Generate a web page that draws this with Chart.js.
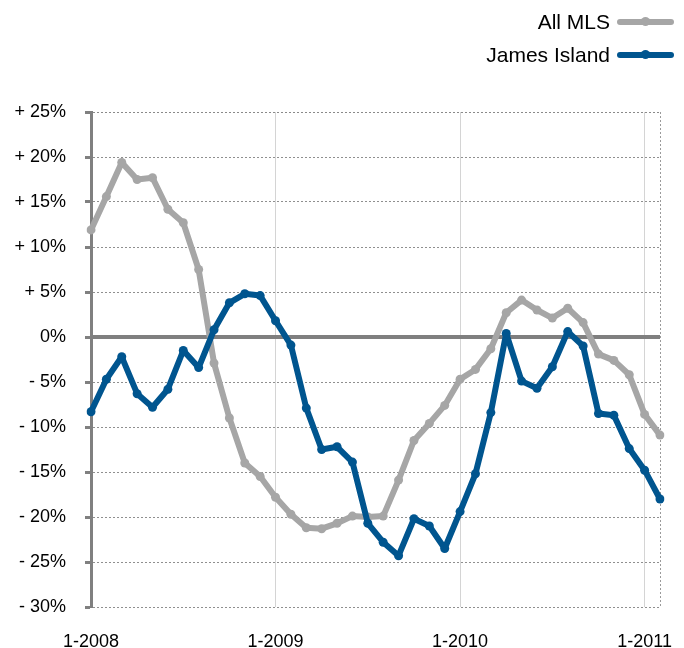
<!DOCTYPE html>
<html>
<head>
<meta charset="utf-8">
<script src="https://cdn.jsdelivr.net/npm/chart.js@4/dist/chart.umd.min.js"></script>
<style>
  html, body { margin: 0; padding: 0; background: #fff; }
  #wrap { position: relative; width: 684px; height: 648px; }
  #chart { position: absolute; left: 0; top: 0; }
  .legend { position: absolute; right: 10px; top: 5px; font-family: "Liberation Sans", Arial, Helvetica, sans-serif; font-size: 21px; color: #000; }
  .legend .row { display: flex; justify-content: flex-end; align-items: center; height: 33px; }
  .legend .swatch { position: relative; width: 57px; height: 6px; border-radius: 3px; margin-left: 7px; }
  .legend .swatch::after { content: ""; position: absolute; left: 24px; top: -1.5px; width: 9px; height: 9px; border-radius: 50%; background: inherit; }
</style>
</head>
<body>
<div id="wrap">
  <canvas id="chart" width="684" height="648"></canvas>
  <div class="legend">
    <div class="row"><span>All MLS</span><span class="swatch" style="background:#a6a6a6"></span></div>
    <div class="row"><span>James Island</span><span class="swatch" style="background:#00558f"></span></div>
  </div>
</div>
<script>
// Month labels (month-year), January 2008 through February 2011
const months = [
  '1-2008','2-2008','3-2008','4-2008','5-2008','6-2008','7-2008','8-2008','9-2008','10-2008','11-2008','12-2008',
  '1-2009','2-2009','3-2009','4-2009','5-2009','6-2009','7-2009','8-2009','9-2009','10-2009','11-2009','12-2009',
  '1-2010','2-2010','3-2010','4-2010','5-2010','6-2010','7-2010','8-2010','9-2010','10-2010','11-2010','12-2010',
  '1-2011','2-2011'
];

// Year-over-year change, percent
const allMLS = [
  11.9, 15.6, 19.4, 17.5, 17.7, 14.2, 12.7, 7.5, -2.9, -9.0, -14.0, -15.5,
  -17.8, -19.7, -21.2, -21.3, -20.7, -19.9, -20.0, -19.9, -15.9, -11.5, -9.6, -7.6,
  -4.7, -3.6, -1.3, 2.7, 4.1, 3.0, 2.1, 3.2, 1.6, -1.9, -2.6, -4.2,
  -8.6, -10.9
];
const jamesIsland = [
  -8.3, -4.7, -2.2, -6.3, -7.8, -5.8, -1.5, -3.4, 0.8, 3.8, 4.8, 4.6,
  1.8, -0.9, -7.9, -12.5, -12.2, -13.9, -20.7, -22.8, -24.3, -20.2, -21.0, -23.5,
  -19.4, -15.2, -8.4, 0.4, -4.9, -5.7, -3.3, 0.6, -1.0, -8.5, -8.7, -12.4,
  -14.8, -18.0
];

// Y axis range and tick step, percent
const yMin = -30, yMax = 25, yStep = 5;

const fontFamily = '"Liberation Sans", Arial, Helvetica, sans-serif';
Chart.defaults.color = '#000';
Chart.defaults.font.family = fontFamily;

function pctLabel(v) {
  if (v > 0) return '+ ' + v + '%';
  if (v < 0) return '- ' + Math.abs(v) + '%';
  return '0%';
}

// Heavy zero line and the dotted right edge of the plot frame
const frameLines = {
  id: 'frameLines',
  beforeDatasetsDraw(chart) {
    const { ctx, chartArea, scales: { x, y } } = chart;
    ctx.save();
    const xr = x.getPixelForValue(months.length - 1);
    ctx.strokeStyle = '#9a9a9a';
    ctx.lineWidth = 1;
    ctx.setLineDash([2, 2]);
    ctx.beginPath();
    ctx.moveTo(Math.round(xr) + 0.5, chartArea.top);
    ctx.lineTo(Math.round(xr) + 0.5, chartArea.bottom);
    ctx.stroke();
    ctx.setLineDash([]);
    const y0 = y.getPixelForValue(0);
    ctx.strokeStyle = '#7f7f7f';
    ctx.lineWidth = 4;
    ctx.beginPath();
    ctx.moveTo(chartArea.left, y0);
    ctx.lineTo(xr, y0);
    ctx.stroke();
    ctx.restore();
  }
};

new Chart(document.getElementById('chart'), {
  type: 'line',
  data: {
    labels: months,
    datasets: [
      {
        label: 'All MLS',
        data: allMLS,
        borderColor: '#a6a6a6',
        backgroundColor: '#a6a6a6',
        borderWidth: 6,
        pointRadius: 4.5,
        pointBorderWidth: 0,
        borderJoinStyle: 'round',
        borderCapStyle: 'round',
        tension: 0,
        order: 2
      },
      {
        label: 'James Island',
        data: jamesIsland,
        borderColor: '#00558f',
        backgroundColor: '#00558f',
        borderWidth: 6,
        pointRadius: 4.5,
        pointBorderWidth: 0,
        borderJoinStyle: 'round',
        borderCapStyle: 'round',
        tension: 0,
        order: 1
      }
    ]
  },
  options: {
    responsive: false,
    animation: false,
    layout: { padding: { top: 112, right: 23, bottom: 0, left: 0 } },
    plugins: { legend: { display: false }, tooltip: { enabled: false } },
    scales: {
      x: {
        offset: false,
        afterFit(scale) { scale.height = 41; },
        border: { display: false },
        grid: {
          drawTicks: false,
          lineWidth: 1,
          color(ctx) {
            const i = ctx.index;
            return (i > 0 && i < months.length - 1 && months[i].startsWith('1-')) ? '#d4d4d4' : 'rgba(0,0,0,0)';
          }
        },
        ticks: {
          autoSkip: false,
          maxRotation: 0,
          minRotation: 0,
          padding: 24,
          font: { size: 18 },
          callback(value, index) {
            const m = months[index];
            return m.startsWith('1-') ? m : '';
          }
        }
      },
      y: {
        min: yMin,
        max: yMax,
        afterFit(scale) { scale.width = 91; },
        border: { display: true, color: '#808080', width: 3, dash: [2, 2] },
        grid: {
          drawTicks: true,
          tickLength: 6,
          tickWidth: 3,
          tickColor: '#808080',
          lineWidth: 1,
          color(ctx) {
            const v = ctx.tick && ctx.tick.value;
            if (v === 0) return 'rgba(0,0,0,0)';
            if (v === yMax) return '#8a8a8a';
            return '#8f8f8f';
          }
        },
        ticks: {
          stepSize: yStep,
          padding: 19,
          font: { size: 18 },
          callback(value) { return pctLabel(value); }
        }
      }
    }
  },
  plugins: [frameLines]
});
</script>
</body>
</html>
